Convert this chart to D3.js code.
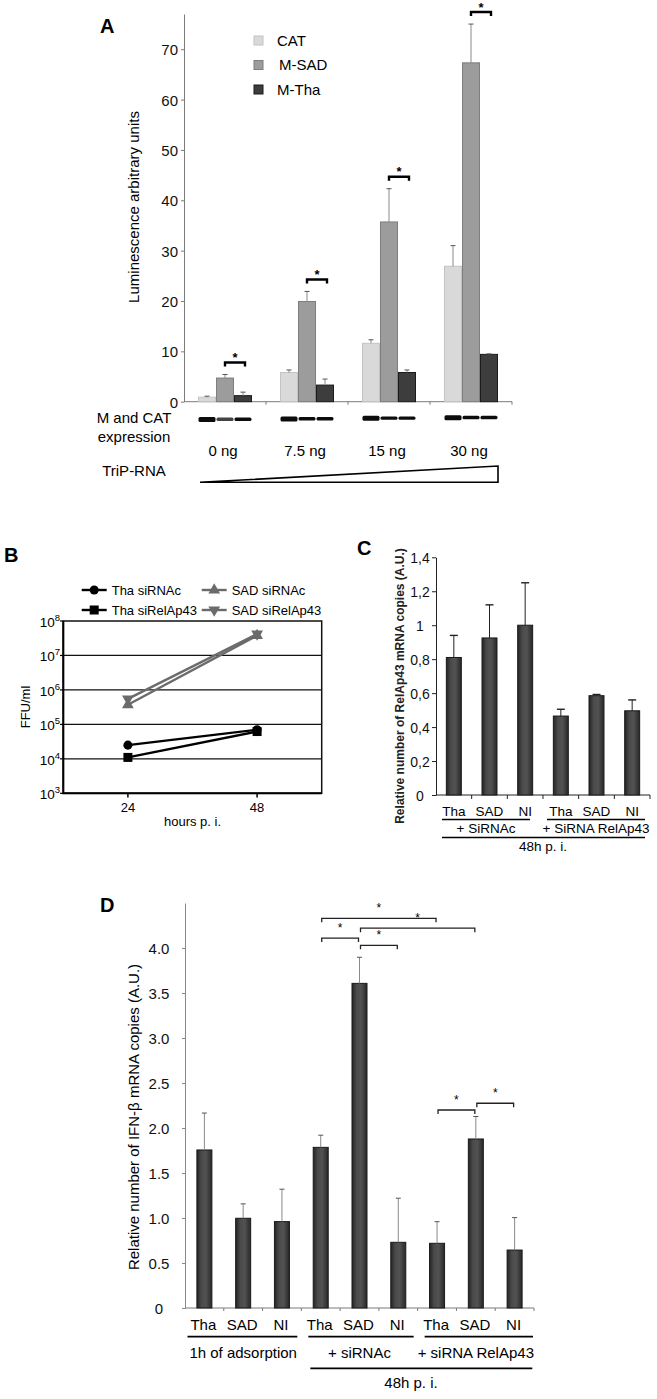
<!DOCTYPE html>
<html>
<head>
<meta charset="utf-8">
<script src="https://cdn.jsdelivr.net/npm/d3@7"></script>
<style>
  html, body { margin: 0; padding: 0; background: #fff; }
  svg { display: block; }
</style>
</head>
<body>
<svg id="fig" width="657" height="1399"></svg>
<script>
// panel A : luminescence per TriP-RNA dose
const doseLabels = ['0 ng', '7.5 ng', '15 ng', '30 ng'];
const constructs = ['CAT', 'M-SAD', 'M-Tha'];
const catValues = [0.9, 5.8, 11.6, 26.9];
const catErrors = [0.2, 0.5, 0.7, 4.1];
const sadValues = [4.7, 19.9, 35.7, 67.3];
const sadErrors = [0.7, 2.0, 6.6, 7.7];
const thaValues = [1.2, 3.3, 5.8, 9.4];
const thaErrors = [0.7, 1.2, 0.5, 0.1];
const yTicksA = [0, 10, 20, 30, 40, 50, 60, 70];

// panel B : viral titres
const hours = ['24', '48'];
const thaSiRNAc = [2.5e4, 7.0e4];
const thaSiRelAp43 = [1.1e4, 6.2e4];
const sadSiRNAc = [3.7e5, 3.8e7];
const sadSiRelAp43 = [5.5e5, 4.2e7];
const ffuTicks = [1e3, 1e4, 1e5, 1e6, 1e7, 1e8];

// panel C : RelAp43 mRNA
const cLabels = ['Tha', 'SAD', 'NI', 'Tha', 'SAD', 'NI'];
const cGroups = ['+ SiRNAc', '+ SiRNA RelAp43'];
const relapValues = [0.81, 0.925, 1.0, 0.465, 0.585, 0.496];
const relapErrors = [0.13, 0.195, 0.25, 0.04, 0.007, 0.064];
const yTicksC = [0, 0.2, 0.4, 0.6, 0.8, 1, 1.2, 1.4];

// panel D : IFN-beta mRNA
const dLabels = ['Tha', 'SAD', 'NI', 'Tha', 'SAD', 'NI', 'Tha', 'SAD', 'NI'];
const dGroups = ['1h of adsorption', '+ siRNAc', '+ siRNA RelAp43'];
const ifnValues = [1.756, 0.997, 0.96, 1.785, 3.607, 0.73, 0.719, 1.878, 0.644];
const ifnErrors = [0.41, 0.16, 0.36, 0.135, 0.29, 0.49, 0.24, 0.25, 0.36];
const dPairs = [[3, 6], [4, 7], [3, 4], [4, 5], [6, 7], [7, 8]];
const yTicksD = [0, 0.5, 1, 1.5, 2, 2.5, 3, 3.5, 4];

const FONT = '"Liberation Sans", Arial, Helvetica, sans-serif';
const svg = d3.select('#fig').attr('font-family', FONT);

const defs = svg.append('defs');
const grad = defs.append('linearGradient').attr('id', 'darkBar')
  .attr('x1', 0).attr('x2', 1).attr('y1', 0).attr('y2', 0);
[[0, '#242424'], [0.3, '#4a4a4a'], [0.6, '#525252'], [1, '#282828']].forEach(function (s) {
  grad.append('stop').attr('offset', s[0]).attr('stop-color', s[1]);
});

function panelLabel(x, y, t) {
  svg.append('text').attr('x', x).attr('y', y)
    .attr('font-size', 20).attr('font-weight', 'bold').text(t);
}

function styleAxis(sel, color, size) {
  sel.attr('font-family', FONT).attr('font-size', size);
  sel.select('.domain').attr('stroke', color);
  sel.selectAll('.tick line').attr('stroke', color);
  sel.selectAll('.tick text').attr('fill', '#111');
}

function drawPanelA() {
  const g = svg.append('g');
  const x0 = d3.scaleBand().domain(doseLabels).range([184, 512]);
  const x1 = d3.scaleBand().domain(constructs).range([14, 68]);
  const y = d3.scaleLinear().domain([0, 77]).range([401.7, 14]);
  const series = [
    {name: 'CAT', values: catValues, errors: catErrors, fill: '#d9d9d9', stroke: '#c3c3c3'},
    {name: 'M-SAD', values: sadValues, errors: sadErrors, fill: '#9c9c9c', stroke: '#7e7e7e'},
    {name: 'M-Tha', values: thaValues, errors: thaErrors, fill: '#3d3d3d', stroke: '#1b1b1b'}
  ];

  panelLabel(100, 33, 'A');

  const ya = g.append('g').attr('transform', 'translate(184,0)')
    .call(d3.axisLeft(y).tickValues(yTicksA).tickSize(3).tickSizeOuter(0).tickPadding(3));
  styleAxis(ya, '#7a7a7a', 15);
  ya.selectAll('.tick text').attr('dy', '0.36em');

  g.append('text')
    .attr('transform', 'translate(139,207) rotate(-90)')
    .attr('text-anchor', 'middle').attr('font-size', 15)
    .text('Luminescence arbitrary units');

  // x axis with ticks between dose groups
  g.append('line').attr('x1', 184).attr('x2', 512).attr('y1', y(0)).attr('y2', y(0))
    .attr('stroke', '#7a7a7a');
  g.selectAll('.xtick').data(doseLabels).join('line')
    .attr('x1', d => x0(d) + x0.bandwidth()).attr('x2', d => x0(d) + x0.bandwidth())
    .attr('y1', y(0)).attr('y2', y(0) + 3).attr('stroke', '#7a7a7a');

  series.forEach(function (s) {
    const bw = x1.bandwidth();
    g.append('g').selectAll('rect').data(doseLabels).join('rect')
      .attr('x', d => x0(d) + x1(s.name) + 0.5)
      .attr('y', (d, i) => y(s.values[i]))
      .attr('width', bw - 1)
      .attr('height', (d, i) => y(0) - y(s.values[i]))
      .attr('fill', s.fill).attr('stroke', s.stroke);

    const err = g.append('g');
    err.selectAll('.stem').data(doseLabels).join('line')
      .attr('x1', d => x0(d) + x1(s.name) + bw / 2)
      .attr('x2', d => x0(d) + x1(s.name) + bw / 2)
      .attr('y1', (d, i) => y(s.values[i]))
      .attr('y2', (d, i) => y(s.values[i] + s.errors[i]))
      .attr('stroke', '#8a8a8a');
    err.selectAll('.cap').data(doseLabels).join('line')
      .attr('x1', d => x0(d) + x1(s.name) + bw / 2 - 2.5)
      .attr('x2', d => x0(d) + x1(s.name) + bw / 2 + 2.5)
      .attr('y1', (d, i) => y(s.values[i] + s.errors[i]))
      .attr('y2', (d, i) => y(s.values[i] + s.errors[i]))
      .attr('stroke', '#555');
  });

  // significance brackets M-SAD vs M-Tha
  doseLabels.forEach(function (d, i) {
    const xa = x0(d) + x1('M-SAD') + x1.bandwidth() / 2;
    const xb = x0(d) + x1('M-Tha') + x1.bandwidth() / 2 + 2;
    const yb = y(sadValues[i] + sadErrors[i]) - 12;
    g.append('path')
      .attr('d', 'M' + xa + ',' + (yb + 4) + 'V' + yb + 'H' + xb + 'V' + (yb + 4))
      .attr('fill', 'none').attr('stroke', '#000').attr('stroke-width', 2.4);
    g.append('text').attr('x', (xa + xb) / 2).attr('y', yb - 0.5)
      .attr('text-anchor', 'middle').attr('font-size', 13).attr('font-weight', 'bold').text('*');
  });

  // legend
  series.forEach(function (s, i) {
    const ly = 36 + i * 24.5;
    g.append('rect').attr('x', 254).attr('y', ly).attr('width', 9).attr('height', 9)
      .attr('fill', s.fill).attr('stroke', s.stroke);
    g.append('text').attr('x', i === 1 ? 279 : 277).attr('y', ly + 9.5)
      .attr('font-size', 15).text(s.name);
  });

  // western blot bands
  doseLabels.forEach(function (d, i) {
    constructs.forEach(function (c, j) {
      g.append('rect')
        .attr('x', x0(d) + x1(c) + 0.5).attr('width', x1.bandwidth() - 1)
        .attr('y', j === 0 ? 417 - i * 0.6 : 417.6 - i * 0.6)
        .attr('height', j === 0 ? 5 : 3.4).attr('rx', 1.5)
        .attr('fill', (i === 0 && j === 1) ? '#444' : '#0c0c0c');
    });
  });

  g.append('text').attr('x', 134).attr('y', 423).attr('text-anchor', 'middle')
    .attr('font-size', 15).text('M and CAT');
  g.append('text').attr('x', 134).attr('y', 442).attr('text-anchor', 'middle')
    .attr('font-size', 15).text('expression');
  g.append('text').attr('x', 134).attr('y', 476).attr('text-anchor', 'middle')
    .attr('font-size', 15).text('TriP-RNA');

  g.selectAll('.dose').data(doseLabels).join('text')
    .attr('x', d => x0(d) + x0.bandwidth() / 2 - 2).attr('y', 456)
    .attr('text-anchor', 'middle').attr('font-size', 15).text(d => d);

  const left = x0(doseLabels[0]) + x1('CAT') + 2;
  const right = x0(doseLabels[3]) + x1('M-Tha') + x1.bandwidth();
  g.append('path')
    .attr('d', 'M' + left + ',482.3H' + right + 'V466Z')
    .attr('fill', '#fff').attr('stroke', '#000').attr('stroke-width', 1.6);
}

function drawPanelB() {
  const g = svg.append('g');
  const x = d3.scalePoint().domain(hours).range([63.3, 321.7]).padding(0.5);
  const y = d3.scaleLog().domain([1e3, 1e8]).range([793.3, 621]);

  panelLabel(4, 562, 'B');

  g.selectAll('.grid').data(ffuTicks.slice(1, -1)).join('line')
    .attr('x1', 63.3).attr('x2', 321.7)
    .attr('y1', d => y(d)).attr('y2', d => y(d))
    .attr('stroke', '#111').attr('stroke-width', 1.3);
  g.append('rect').attr('x', 63.3).attr('y', 621).attr('width', 258.4).attr('height', 172.3)
    .attr('fill', 'none').attr('stroke', '#111').attr('stroke-width', 1.5);
  g.append('path').attr('d', 'M63.3,621V793.3H321.7')
    .attr('fill', 'none').attr('stroke', '#000').attr('stroke-width', 2);

  g.selectAll('.ytick').data(ffuTicks).join('line')
    .attr('x1', 60).attr('x2', 63.3).attr('y1', d => y(d)).attr('y2', d => y(d))
    .attr('stroke', '#000').attr('stroke-width', 1.2);
  const lab = g.selectAll('.ylab').data(ffuTicks).join('text')
    .attr('x', 60).attr('y', d => y(d) + 6)
    .attr('text-anchor', 'end').attr('font-size', 13.5).text('10');
  lab.append('tspan').attr('dy', -6).attr('font-size', 9.5)
    .text(d => Math.round(Math.log10(d)));

  g.selectAll('.xtick').data(hours).join('line')
    .attr('x1', d => x(d)).attr('x2', d => x(d)).attr('y1', 793.3).attr('y2', 797.5)
    .attr('stroke', '#000').attr('stroke-width', 1.5);
  g.selectAll('.xlab').data(hours).join('text')
    .attr('x', d => x(d)).attr('y', 812).attr('text-anchor', 'middle')
    .attr('font-size', 13).text(d => d);
  g.append('text').attr('x', 192.5).attr('y', 825.5).attr('text-anchor', 'middle')
    .attr('font-size', 13).text('hours p. i.');
  g.append('text').attr('transform', 'translate(29.5,707) rotate(-90)')
    .attr('text-anchor', 'middle').attr('font-size', 13).text('FFU/ml');

  const lines = [
    {name: 'Tha siRNAc', values: thaSiRNAc, color: '#000', symbol: d3.symbolCircle, size: 64, rot: 0},
    {name: 'Tha siRelAp43', values: thaSiRelAp43, color: '#000', symbol: d3.symbolSquare, size: 81, rot: 0},
    {name: 'SAD siRNAc', values: sadSiRNAc, color: '#6b6b6b', symbol: d3.symbolTriangle, size: 60, rot: 0},
    {name: 'SAD siRelAp43', values: sadSiRelAp43, color: '#6b6b6b', symbol: d3.symbolTriangle, size: 60, rot: 180}
  ];
  const line = d3.line().x((d, i) => x(hours[i])).y(d => y(d));

  lines.slice().reverse().forEach(function (s) {
    g.append('path').attr('d', line(s.values))
      .attr('fill', 'none').attr('stroke', s.color).attr('stroke-width', 2.4);
    g.selectAll(null).data(s.values).join('path')
      .attr('transform', (d, i) => 'translate(' + x(hours[i]) + ',' + y(d) + ') rotate(' + s.rot + ')')
      .attr('d', d3.symbol().type(s.symbol).size(s.size))
      .attr('fill', s.color);
  });

  // legend, two columns
  const legendPos = [[81.7, 590], [81.7, 610], [201.7, 590], [201.7, 610]];
  lines.forEach(function (s, i) {
    const lx = legendPos[i][0];
    const ly = legendPos[i][1];
    g.append('line').attr('x1', lx).attr('x2', lx + 25).attr('y1', ly).attr('y2', ly)
      .attr('stroke', s.color).attr('stroke-width', 2.4);
    g.append('path').attr('transform', 'translate(' + (lx + 12.5) + ',' + ly + ') rotate(' + s.rot + ')')
      .attr('d', d3.symbol().type(s.symbol).size(s.size)).attr('fill', s.color);
    g.append('text').attr('x', lx + 30).attr('y', ly + 4.7)
      .attr('font-size', 13).text(s.name);
  });
}

function drawPanelC() {
  const g = svg.append('g');
  const x = d3.scaleBand().domain(d3.range(relapValues.length))
    .range([436, 650]).paddingInner(0.58).paddingOuter(0.29);
  const y = d3.scaleLinear().domain([0, 1.4]).range([795, 557.3]);
  const step = x.step();

  panelLabel(357, 555, 'C');

  const ya = g.append('g').attr('transform', 'translate(436,0)')
    .call(d3.axisLeft(y).tickValues(yTicksC).tickSize(4).tickSizeOuter(0)
      .tickFormat(d => String(d).replace('.', ',')));
  styleAxis(ya, '#222', 14);
  ya.selectAll('.tick text').attr('x', -16).attr('text-anchor', 'middle').attr('dy', '0.36em');

  g.append('text').attr('transform', 'translate(404,686) rotate(-90)')
    .attr('text-anchor', 'middle').attr('font-size', 12).attr('font-weight', 'bold')
    .attr('fill', '#222')
    .text('Relative number of RelAp43 mRNA copies (A.U.)');

  g.append('line').attr('x1', 436).attr('x2', 650).attr('y1', 795).attr('y2', 795)
    .attr('stroke', '#222');
  g.selectAll('.xtick').data(relapValues).join('line')
    .attr('x1', (d, i) => 436 + step * (i + 1)).attr('x2', (d, i) => 436 + step * (i + 1))
    .attr('y1', 795).attr('y2', 799).attr('stroke', '#222');

  g.selectAll('.bar').data(relapValues).join('rect')
    .attr('x', (d, i) => x(i)).attr('width', x.bandwidth())
    .attr('y', d => y(d)).attr('height', d => y(0) - y(d))
    .attr('fill', 'url(#darkBar)').attr('stroke', '#1a1a1a');
  g.selectAll('.stem').data(relapValues).join('line')
    .attr('x1', (d, i) => x(i) + x.bandwidth() / 2).attr('x2', (d, i) => x(i) + x.bandwidth() / 2)
    .attr('y1', d => y(d)).attr('y2', (d, i) => y(d + relapErrors[i]))
    .attr('stroke', '#222');
  g.selectAll('.cap').data(relapValues).join('line')
    .attr('x1', (d, i) => x(i) + x.bandwidth() / 2 - 4).attr('x2', (d, i) => x(i) + x.bandwidth() / 2 + 4)
    .attr('y1', (d, i) => y(d + relapErrors[i])).attr('y2', (d, i) => y(d + relapErrors[i]))
    .attr('stroke', '#222').attr('stroke-width', 1.4);

  g.selectAll('.xlab').data(cLabels).join('text')
    .attr('x', (d, i) => x(i) + x.bandwidth() / 2).attr('y', 815.5)
    .attr('text-anchor', 'middle').attr('font-size', 13.5).text(d => d);

  const inset = [[6, 13], [4, 5]];
  cGroups.forEach(function (name, k) {
    const a = 436 + step * 3 * k + inset[k][0];
    const b = 436 + step * 3 * (k + 1) - inset[k][1];
    g.append('line').attr('x1', a).attr('x2', b).attr('y1', 819.5).attr('y2', 819.5)
      .attr('stroke', '#000').attr('stroke-width', 1.3);
    g.append('text').attr('x', (a + b) / 2).attr('y', 832.5).attr('text-anchor', 'middle')
      .attr('font-size', 13.5).text(name);
  });
  g.append('line').attr('x1', 442).attr('x2', 645).attr('y1', 837.5).attr('y2', 837.5)
    .attr('stroke', '#000').attr('stroke-width', 1.3);
  g.append('text').attr('x', 543).attr('y', 851).attr('text-anchor', 'middle')
    .attr('font-size', 13.5).text('48h p. i.');
}

function drawPanelD() {
  const g = svg.append('g');
  const x = d3.scaleBand().domain(d3.range(ifnValues.length))
    .range([185, 534]).paddingInner(0.613).paddingOuter(0.3065);
  const y = d3.scaleLinear().domain([0, 4.5]).range([1308, 903]);
  const step = x.step();
  const cx = i => x(i) + x.bandwidth() / 2;

  panelLabel(100, 912, 'D');

  const ya = g.append('g').attr('transform', 'translate(185,0)')
    .call(d3.axisLeft(y).tickValues(yTicksD).tickSize(3).tickSizeOuter(0)
      .tickFormat(d => d === 0 ? '0' : d3.format('.1f')(d)));
  styleAxis(ya, '#8a8a8a', 15);
  ya.selectAll('.tick text').attr('x', -26).attr('text-anchor', 'middle').attr('dy', '0.36em');

  g.append('text').attr('transform', 'translate(138.5,1117) rotate(-90)')
    .attr('text-anchor', 'middle').attr('font-size', 15)
    .text('Relative number of IFN-β mRNA copies (A.U.)');

  g.append('line').attr('x1', 185).attr('x2', 534).attr('y1', 1308).attr('y2', 1308)
    .attr('stroke', '#7a7a7a');
  g.selectAll('.xtick').data(ifnValues).join('line')
    .attr('x1', (d, i) => 185 + step * (i + 1)).attr('x2', (d, i) => 185 + step * (i + 1))
    .attr('y1', 1308).attr('y2', 1311).attr('stroke', '#7a7a7a');

  g.selectAll('.bar').data(ifnValues).join('rect')
    .attr('x', (d, i) => x(i)).attr('width', x.bandwidth())
    .attr('y', d => y(d)).attr('height', d => y(0) - y(d))
    .attr('fill', 'url(#darkBar)').attr('stroke', '#1a1a1a');
  g.selectAll('.stem').data(ifnValues).join('line')
    .attr('x1', (d, i) => cx(i)).attr('x2', (d, i) => cx(i))
    .attr('y1', d => y(d)).attr('y2', (d, i) => y(d + ifnErrors[i]))
    .attr('stroke', '#8a8a8a');
  g.selectAll('.cap').data(ifnValues).join('line')
    .attr('x1', (d, i) => cx(i) - 2.5).attr('x2', (d, i) => cx(i) + 2.5)
    .attr('y1', (d, i) => y(d + ifnErrors[i])).attr('y2', (d, i) => y(d + ifnErrors[i]))
    .attr('stroke', '#555');

  // brackets, heights in data units
  const levels = [4.33, 4.22, 4.11, 4.03, 2.2, 2.275];
  dPairs.forEach(function (p, k) {
    const xa = cx(p[0]) + 1;
    const xb = cx(p[1]) - 1;
    const yb = y(levels[k]);
    g.append('path')
      .attr('d', 'M' + xa + ',' + (yb + 4) + 'V' + yb + 'H' + xb + 'V' + (yb + 4))
      .attr('fill', 'none').attr('stroke', '#222').attr('stroke-width', 1.3);
    g.append('text').attr('x', (xa + xb) / 2).attr('y', yb - 6)
      .attr('text-anchor', 'middle').attr('font-size', 12).text('*');
  });

  g.selectAll('.xlab').data(dLabels).join('text')
    .attr('x', (d, i) => cx(i) - 1).attr('y', 1329.5)
    .attr('text-anchor', 'middle').attr('font-size', 15).text(d => d);

  dGroups.forEach(function (name, k) {
    const a = 185 + step * 3 * k + (k === 0 ? 2.5 : 7);
    const b = 185 + step * 3 * (k + 1) - (k === 2 ? 1 : 4);
    g.append('line').attr('x1', a).attr('x2', b).attr('y1', 1336.7).attr('y2', 1336.7)
      .attr('stroke', '#000').attr('stroke-width', 1.8);
    g.append('text').attr('x', 185 + step * (3 * k + 1.5)).attr('y', 1358)
      .attr('text-anchor', 'middle').attr('font-size', 15).text(name);
  });
  g.append('line').attr('x1', 185 + step * 3 + 9).attr('x2', 532.3)
    .attr('y1', 1368.3).attr('y2', 1368.3).attr('stroke', '#000').attr('stroke-width', 1.8);
  g.append('text').attr('x', 411).attr('y', 1388).attr('text-anchor', 'middle')
    .attr('font-size', 15).text('48h p. i.');
}

drawPanelA();
drawPanelB();
drawPanelC();
drawPanelD();
</script>
</body>
</html>
